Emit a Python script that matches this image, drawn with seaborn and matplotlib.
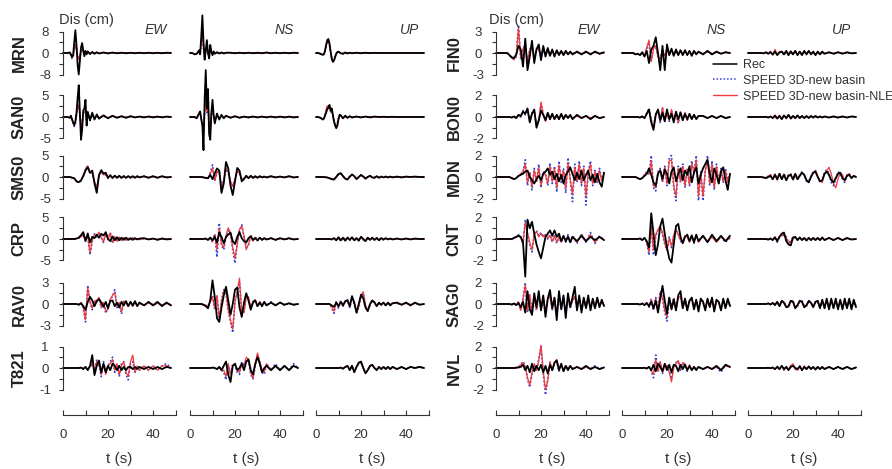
import numpy as np
import pandas as pd
import seaborn as sns
import matplotlib.pyplot as plt
from matplotlib.lines import Line2D

# time axes (s)
t_A = [0, 1, 2, 3, 3.5, 4, 4.5, 5, 5.5, 6, 6.5, 7, 7.5, 8, 8.5, 9, 9.5, 10, 10.5, 11, 12, 13, 14, 15, 16, 18, 20, 22, 24, 26, 28, 30, 32, 34, 36, 38, 40, 42, 44, 46, 48]
t_B = [0, 3, 5, 6, 7, 8, 9, 10, 11, 12, 13, 14, 15, 16, 17, 18, 19, 20, 21, 22, 23, 24, 25, 26, 27, 28, 29, 30, 31, 32, 33, 34, 36, 38, 40, 42, 44, 46, 48]
t_C = [0, 3, 5, 6, 7, 8, 9, 10, 11, 12, 13, 14, 15, 16, 17, 18, 19, 20, 21, 22, 23, 24, 25, 26, 27, 28, 29, 30, 31, 32, 33, 34, 35, 36, 37, 38, 39, 40, 41, 42, 43, 44, 45, 46, 47, 48]

# displacement (cm): rec = recorded, sim = SPEED 3D-new basin, nle = SPEED 3D-new basin-NLE
MRN_EW_rec = [0, 0, 0, 0.2, -0.5, -1.5, -0.8, 4.0, 8.5, 3.0, -4.5, -8.0, -3.0, 2.0, 3.7, 1.0, -1.2, 0.8, -0.5, 0.6, -0.4, 0.4, -0.3, 0.3, -0.2, 0.2, -0.15, 0.15, -0.1, 0.1, -0.1, 0.1, -0.1, 0.1, -0.1, 0.1, -0.1, 0.1, -0.1, 0.1, 0]
MRN_EW_sim = [0, 0, 0, 0.1, -0.8, -2.0, -1.5, 1.0, 3.0, 2.0, -1.0, -2.5, -1.5, 0.8, 1.5, 0.5, -0.6, 0.4, -0.3, 0.3, -0.2, 0.2, -0.2, 0.1, -0.1, 0.1, -0.1, 0.1, 0, 0.1, 0, 0.05, 0, 0.05, 0, 0.05, 0, 0.05, 0, 0, 0]
MRN_EW_nle = [0, 0, 0, 0.1, -0.6, -1.8, -1.2, 1.2, 2.6, 1.5, -1.2, -2.2, -1.0, 0.9, 1.2, 0.4, -0.5, 0.4, -0.2, 0.3, -0.2, 0.2, -0.1, 0.1, -0.1, 0.1, -0.1, 0.1, 0, 0.05, 0, 0.05, 0, 0.05, 0, 0.05, 0, 0.05, 0, 0, 0]
MRN_NS_rec = [0, 0, -0.5, -0.3, 0.3, 1.0, -0.5, 6.0, 14.0, 4.0, -2.5, 1.0, 4.8, 0.0, -2.0, 3.0, 0.5, -0.8, 0.6, -0.3, 0.3, -0.2, 0.2, -0.2, 0.1, 0.1, -0.1, 0.1, -0.1, 0.1, -0.1, 0.1, -0.1, 0.2, -0.1, 0.1, -0.1, 0.1, -0.1, 0.1, 0]
MRN_NS_sim = [0, 0, -0.5, -0.3, 0.2, 0.8, -0.3, 3.0, 6.0, 2.0, -2.0, 0.5, 2.5, 0.2, -1.5, 1.5, 0.3, -0.6, 0.4, -0.2, 0.2, -0.1, 0.1, -0.1, 0.1, 0.1, 0, 0.1, 0, 0.1, 0, 0.05, 0, 0.05, 0, 0.05, 0, 0.05, 0, 0, 0]
MRN_NS_nle = [0, 0, -0.4, -0.3, 0.2, 0.9, -0.2, 3.5, 7.0, 2.5, -1.5, 0.8, 3.0, 0.3, -1.2, 1.8, 0.2, -0.5, 0.4, -0.2, 0.2, -0.1, 0.1, -0.1, 0.1, 0.1, 0, 0.1, 0, 0.1, 0, 0.05, 0, 0.05, 0, 0.05, 0, 0.05, 0, 0, 0]
MRN_UP_rec = [0, 0, -0.3, -0.7, -0.5, 0.8, 3.0, 4.8, 5.2, 3.5, 0.5, -2.2, -3.3, -2.8, -1.5, -0.3, 0.4, 0.5, 0.2, -0.1, -0.3, 0.2, -0.2, 0.1, -0.1, 0.1, -0.1, 0.1, -0.05, 0.05, 0, 0, 0, 0, 0, 0, 0, 0, 0, 0, 0]
MRN_UP_sim = [0, 0, -0.3, -0.6, -0.5, 0.6, 2.5, 4.0, 4.5, 3.0, 0.5, -1.8, -2.8, -2.4, -1.2, -0.2, 0.3, 0.4, 0.2, -0.1, -0.2, 0.1, -0.1, 0.1, -0.1, 0.1, 0, 0.05, 0, 0, 0, 0, 0, 0, 0, 0, 0, 0, 0, 0, 0]
MRN_UP_nle = [0, 0, -0.3, -0.6, -0.4, 0.7, 2.8, 4.4, 4.8, 3.2, 0.6, -1.9, -3.0, -2.5, -1.3, -0.3, 0.3, 0.4, 0.2, -0.1, -0.2, 0.1, -0.1, 0.1, -0.1, 0.1, 0, 0.05, 0, 0, 0, 0, 0, 0, 0, 0, 0, 0, 0, 0, 0]

SAN0_EW_rec = [0, 0, 0, -0.2, 0.3, -0.5, -1.2, -1.9, -1.0, 1.0, 4.5, 7.4, 1.0, -5.3, -3.0, 1.5, 2.0, 4.0, -2.0, 1.2, -0.8, 1.0, -0.6, 0.6, -0.4, 0.4, -0.3, 0.3, -0.2, 0.2, -0.2, 0.2, -0.1, 0.1, -0.1, 0.1, -0.1, 0.1, -0.1, 0.1, 0]
SAN0_EW_sim = [0, 0, 0, -0.2, 0.2, -0.8, -1.5, -2.2, -1.5, 0.5, 2.0, 2.5, 0.5, -2.0, -1.5, 0.8, 1.2, 1.5, -0.8, 0.6, -0.5, 0.5, -0.4, 0.3, -0.2, 0.2, -0.2, 0.2, -0.1, 0.1, -0.1, 0.1, -0.1, 0.1, 0, 0.1, 0, 0.05, 0, 0.05, 0]
SAN0_EW_nle = [0, 0, 0, -0.2, 0.2, -0.7, -1.4, -2.0, -1.2, 0.6, 2.2, 2.8, 0.6, -2.2, -1.4, 0.9, 1.3, 1.7, -0.9, 0.7, -0.5, 0.5, -0.3, 0.3, -0.2, 0.2, -0.2, 0.2, -0.1, 0.1, -0.1, 0.1, -0.1, 0.1, 0, 0.1, 0, 0.05, 0, 0.05, 0]
SAN0_NS_rec = [0, 0, 0, -0.3, 0.3, 0.8, 1.3, -0.5, -2.0, -7.7, 4.0, 10.9, 2.0, 6.5, -4.0, -5.3, 1.0, 4.0, 0.5, -1.5, 0.8, -0.6, 0.5, -0.3, 0.3, -0.2, 0.2, -0.2, 0.1, -0.1, 0.1, -0.1, 0.1, -0.1, 0.1, -0.1, 0.1, -0.1, 0.1, -0.1, 0]
SAN0_NS_sim = [0, 0, 0, -0.2, 0.2, 0.6, 1.0, -0.3, -1.5, -3.5, 1.0, 3.5, 1.0, 2.5, -2.0, -2.5, 0.5, 2.0, 0.3, -0.8, 0.5, -0.4, 0.3, -0.2, 0.2, -0.1, 0.1, -0.1, 0.1, -0.1, 0.1, -0.1, 0.05, -0.05, 0.05, -0.05, 0.05, 0, 0, 0, 0]
SAN0_NS_nle = [0, 0, 0, -0.2, 0.2, 0.7, 1.1, -0.3, -1.6, -3.8, 1.2, 3.8, 1.2, 2.8, -2.2, -2.6, 0.6, 2.2, 0.3, -0.9, 0.5, -0.4, 0.3, -0.2, 0.2, -0.1, 0.1, -0.1, 0.1, -0.1, 0.1, -0.1, 0.05, -0.05, 0.05, -0.05, 0.05, 0, 0, 0, 0]
SAN0_UP_rec = [0, 0, -0.2, -0.6, -0.4, 0.3, 1.0, 1.8, 2.2, 2.8, 1.5, 2.0, 0.5, -1.0, -2.0, -2.6, -2.0, -0.5, 0.5, 0.4, -0.3, 0.3, -0.2, 0.2, -0.1, 0.1, -0.1, 0.1, -0.1, 0.1, 0, 0.05, 0, 0.05, 0, 0, 0, 0, 0, 0, 0]
SAN0_UP_sim = [0, 0, -0.2, -0.5, -0.3, 0.5, 1.5, 2.3, 1.8, 2.5, 1.2, 1.5, 0.2, -1.0, -1.8, -2.2, -1.5, -0.3, 0.4, 0.3, -0.3, 0.2, -0.2, 0.1, -0.1, 0.1, -0.1, 0.1, 0, 0.05, 0, 0, 0, 0, 0, 0, 0, 0, 0, 0, 0]
SAN0_UP_nle = [0, 0, -0.2, -0.5, -0.3, 0.6, 1.8, 2.6, 2.0, 2.8, 1.4, 1.6, 0.3, -1.0, -1.9, -2.3, -1.6, -0.4, 0.4, 0.3, -0.3, 0.2, -0.2, 0.1, -0.1, 0.1, -0.1, 0.1, 0, 0.05, 0, 0, 0, 0, 0, 0, 0, 0, 0, 0, 0]

SMS0_EW_rec = [0, 0, -0.3, -1.0, -1.2, -0.8, 0.2, 1.5, 2.3, 1.0, 1.5, -1.5, -3.7, 0.5, 1.6, 0.8, 1.0, -0.2, 0.4, -0.2, 0.3, -0.2, 0.3, -0.2, 0.2, -0.2, 0.2, -0.2, 0.2, -0.2, 0.2, -0.1, 0.2, -0.2, 0.2, -0.2, 0.2, -0.1, 0]
SMS0_EW_sim = [0, 0, -0.3, -1.0, -1.3, -0.9, 0.3, 1.8, 2.5, 0.8, 1.0, -1.2, -2.5, 0.3, 1.2, 0.6, 0.5, -0.3, 0.4, -0.3, 0.3, -0.2, 0.2, -0.2, 0.2, -0.2, 0.2, -0.1, 0.1, -0.1, 0.1, -0.1, 0.1, -0.1, 0.1, -0.1, 0.1, -0.1, 0]
SMS0_EW_nle = [0, 0, -0.3, -1.0, -1.2, -0.8, 0.3, 1.9, 2.6, 0.9, 1.2, -1.0, -2.6, 0.4, 1.3, 0.5, 0.6, -0.3, 0.3, -0.2, 0.3, -0.2, 0.2, -0.2, 0.2, -0.2, 0.2, -0.1, 0.1, -0.1, 0.1, -0.1, 0.1, -0.1, 0.1, -0.1, 0.1, -0.1, 0]
SMS0_NS_rec = [0, 0, 0, -0.1, -0.2, -0.3, 0.5, -0.5, 0.8, 2.0, 1.5, -3.7, -1.5, 3.5, 2.0, -2.0, -4.2, -1.0, 2.1, 1.5, -1.0, -0.5, 0.3, -0.3, 0.3, -0.2, 0.2, -0.2, 0.2, -0.1, 0.1, -0.1, 0.2, -0.1, 0.1, -0.1, 0.2, -0.1, 0]
SMS0_NS_sim = [0, 0, 0, -0.1, -0.2, -0.3, 1.0, 2.8, -1.0, 1.0, 1.2, -2.0, -0.8, 1.8, 1.0, -1.2, -2.0, -0.5, 1.2, 0.8, -0.6, -0.3, 0.2, -0.2, 0.2, -0.2, 0.1, -0.1, 0.1, -0.1, 0.1, -0.1, 0.1, -0.1, 0.1, -0.1, 0.1, -0.1, 0]
SMS0_NS_nle = [0, 0, 0, -0.1, -0.2, -0.3, 0.8, 2.0, -0.8, 1.2, 1.3, -2.2, -1.0, 2.0, 1.2, -1.0, -2.2, -0.6, 1.3, 0.9, -0.5, -0.3, 0.2, -0.2, 0.2, -0.2, 0.1, -0.1, 0.1, -0.1, 0.1, -0.1, 0.1, -0.1, 0.1, -0.1, 0.1, -0.1, 0]
SMS0_UP_rec = [0, 0, -0.1, -0.3, -0.5, -0.6, 0.0, 0.7, 0.9, 0.2, -0.4, -0.6, 0.1, 0.6, 0.2, -0.5, 0.0, 0.5, 0.1, -0.4, 0.0, 0.3, -0.1, -0.2, 0.2, -0.2, 0.1, -0.1, 0.1, -0.1, 0.1, -0.1, 0.1, -0.1, 0.1, 0, 0.1, 0, 0]
SMS0_UP_sim = [0, 0, -0.1, -0.3, -0.5, -0.5, 0.1, 0.6, 0.8, 0.1, -0.4, -0.5, 0.1, 0.5, 0.1, -0.4, 0.0, 0.4, 0.1, -0.3, 0.0, 0.2, -0.1, -0.1, 0.1, -0.1, 0.1, -0.1, 0.1, -0.1, 0, 0, 0, 0, 0, 0, 0, 0, 0]
SMS0_UP_nle = [0, 0, -0.1, -0.3, -0.4, -0.5, 0.1, 0.7, 0.8, 0.2, -0.3, -0.5, 0.0, 0.5, 0.2, -0.4, -0.1, 0.4, 0.1, -0.3, 0.1, 0.2, -0.1, -0.1, 0.1, -0.1, 0.1, -0.1, 0.1, -0.1, 0, 0, 0, 0, 0, 0, 0, 0, 0]

CRP_EW_rec = [0, 0, 0, 0.1, 0.3, 0.9, 1.6, -0.5, 1.3, -0.8, 0.5, 0.2, 1.0, 0.3, 1.2, 0.8, 1.6, 0.0, -0.5, 0.6, -0.3, 0.4, -0.3, 0.3, -0.2, 0.3, -0.2, 0.2, -0.2, 0.2, -0.1, 0.1, 0.2, -0.1, 0.1, -0.2, 0.1, -0.1, 0]
CRP_EW_sim = [0, 0, 0, 0.1, 0.2, 0.6, 1.0, -0.3, 0.8, -3.7, -0.5, 1.2, 0.5, 1.5, 0.3, -0.8, 1.2, 0.0, 1.5, -1.0, 0.5, -0.6, 0.4, -0.3, 0.3, -0.3, 0.2, -0.2, 0.2, -0.1, 0.1, -0.1, 0.1, -0.1, 0.1, -0.1, 0.1, 0, 0]
CRP_EW_nle = [0, 0, 0, 0.1, 0.2, 0.5, 1.1, -0.4, 0.9, -3.2, -0.3, 1.0, 0.6, 1.6, 0.4, -0.7, 1.3, -0.2, 1.4, -0.8, 0.6, -0.5, 0.3, -0.3, 0.3, -0.3, 0.2, -0.2, 0.2, -0.1, 0.1, -0.1, 0.1, -0.1, 0.1, -0.1, 0.1, 0, 0]
CRP_NS_rec = [0, 0, 0, 0, 0.1, -0.2, 0.3, -0.3, 0.5, -0.8, 1.5, 0.5, -1.0, 0.5, 1.0, 1.5, -0.5, -1.2, 0.5, 1.6, 0.2, -0.5, -0.8, 0.2, 0.6, -0.2, 0.2, -0.3, 0.3, -0.2, 0.2, -0.1, 0.2, -0.2, 0.2, -0.1, 0.2, -0.1, 0]
CRP_NS_sim = [0, 0, 0, 0, 0.1, -0.3, 0.5, -0.8, 1.2, -4.2, 3.7, -1.5, -2.5, 0.5, 2.0, 1.0, -2.5, -5.6, -1.0, 2.0, 3.3, 0.5, -2.0, -1.5, 1.0, -0.5, 0.5, -0.4, 0.3, -0.3, 0.3, -0.2, 0.2, -0.2, 0.1, -0.1, 0.1, -0.1, 0]
CRP_NS_nle = [0, 0, 0, 0, 0.1, -0.3, 0.4, -0.6, 1.0, -2.5, 2.5, -1.2, -2.0, 0.8, 2.6, 1.2, -2.0, -4.5, -1.2, 2.2, 3.0, 0.8, -2.5, -1.2, 0.8, -0.5, 0.4, -0.3, 0.3, -0.2, 0.2, -0.2, 0.2, -0.2, 0.1, -0.1, 0.1, -0.1, 0]
CRP_UP_rec = [0, 0, 0, 0, -0.1, 0.2, -0.3, 0.4, -0.3, 0.3, -0.4, 0.3, -0.2, 0.4, -0.3, 0.2, -0.4, 0.5, 0.0, -0.5, 0.3, -0.2, 0.3, -0.2, 0.2, -0.3, 0.2, -0.1, 0.2, -0.1, 0.1, -0.1, 0.1, -0.1, 0.1, -0.1, 0.1, 0, 0]
CRP_UP_sim = [0, 0, 0, 0, -0.1, 0.2, -0.4, 0.3, -0.5, 0.4, -0.3, 0.5, -0.3, 0.3, -0.4, 0.3, -0.3, 0.6, -0.2, -0.4, 0.4, -0.3, 0.2, -0.2, 0.3, -0.2, 0.2, -0.2, 0.1, -0.1, 0.1, -0.1, 0.1, -0.1, 0.1, -0.1, 0, 0, 0]
CRP_UP_nle = [0, 0, 0, 0, -0.1, 0.2, -0.3, 0.4, -0.4, 0.3, -0.4, 0.4, -0.2, 0.4, -0.3, 0.2, -0.4, 0.5, -0.1, -0.5, 0.3, -0.2, 0.3, -0.2, 0.3, -0.2, 0.2, -0.2, 0.1, -0.1, 0.1, -0.1, 0.1, -0.1, 0.1, -0.1, 0, 0, 0]

RAV0_EW_rec = [0, 0, 0, 0, -0.1, 0.1, -0.3, -0.8, 0.3, 1.0, 0.5, -0.3, 0.4, 0.7, 0.2, -0.4, 0.3, -0.6, 0.4, 0.5, -0.3, 0.2, -0.5, 0.3, -0.2, 0.4, -0.3, 0.3, -0.2, 0.4, -0.3, 0.2, -0.2, 0.3, -0.2, 0.3, -0.3, 0.2, -0.2]
RAV0_EW_sim = [0, 0, 0, 0, -0.1, 0.2, -0.5, -2.5, 2.6, 0.3, -0.8, 0.5, 0.3, 0.8, -0.5, 0.3, -1.3, -0.5, 0.8, 1.0, 2.0, -0.5, 0.3, -1.4, 0.5, 0.3, -0.4, 0.3, -0.3, 0.2, -0.2, 0.2, -0.2, 0.2, -0.1, 0.2, -0.2, 0.1, -0.1]
RAV0_EW_nle = [0, 0, 0, 0, -0.1, 0.2, -0.4, -2.2, 2.3, 0.4, -0.6, 0.4, 0.5, 0.9, -0.4, 0.2, -1.0, -0.7, 0.6, 1.2, 1.6, -0.3, 0.2, -1.1, 0.4, 0.2, -0.3, 0.2, -0.3, 0.3, -0.2, 0.1, -0.2, 0.2, -0.2, 0.1, -0.1, 0.1, -0.1]
RAV0_NS_rec = [0, 0, 0, -0.1, -0.3, -0.6, 0.5, 3.3, 1.0, -2.0, -2.5, -0.5, 1.2, 2.4, 0.5, -1.5, 0.0, 2.0, 2.3, -0.5, -1.8, 0.2, 1.5, 0.5, -0.8, 0.2, 0.5, -0.3, 0.2, -0.3, 0.3, -0.2, 0.2, -0.2, 0.2, -0.1, 0.1, -0.1, 0]
RAV0_NS_sim = [0, 0, 0, -0.1, -0.2, -0.3, 0.4, 1.2, -0.8, 1.0, -2.5, 0.5, 2.0, 1.5, -1.0, -2.5, -4.0, 0.5, 1.5, 3.0, -1.5, -1.0, 1.2, 0.8, -0.6, 0.4, 0.5, -0.4, 0.3, -0.3, 0.3, -0.2, 0.3, -0.2, 0.2, -0.2, 0.1, -0.1, 0]
RAV0_NS_nle = [0, 0, 0, -0.1, -0.2, -0.3, 0.3, 1.0, -0.6, 1.2, -2.0, 0.3, 1.8, 1.8, -0.8, -2.2, -3.5, 0.2, 1.8, 3.6, -1.2, -1.2, 1.0, 1.0, -0.5, 0.3, 0.6, -0.3, 0.3, -0.2, 0.2, -0.2, 0.2, -0.2, 0.2, -0.1, 0.1, -0.1, 0]
RAV0_UP_rec = [0, 0, 0, 0, -0.2, -0.4, 0.2, -0.3, 0.3, -0.2, 0.4, 0.5, -0.3, 1.1, 0.2, -1.2, 0.0, 1.3, 0.8, -0.5, -1.0, 0.0, 0.5, 0.2, -0.3, 0.2, -0.1, 0.2, -0.2, 0.2, -0.2, 0.1, 0.2, -0.1, 0.2, -0.2, 0.2, -0.1, 0]
RAV0_UP_sim = [0, 0, 0, 0, -0.5, -1.3, 0.4, -0.6, 0.5, -0.3, 0.3, 0.6, -0.5, 0.8, 0.0, -1.3, -0.5, 1.0, 1.5, -0.3, -0.8, -0.2, 0.4, 0.3, -0.3, 0.2, -0.2, 0.2, -0.2, 0.1, -0.1, 0.1, 0.1, -0.1, 0.1, -0.1, 0.1, -0.1, 0]
RAV0_UP_nle = [0, 0, 0, 0, -0.4, -1.0, 0.3, -0.4, 0.4, -0.3, 0.4, 0.5, -0.4, 0.9, 0.2, -1.1, -0.4, 1.2, 1.7, -0.2, -0.9, -0.1, 0.5, 0.3, -0.3, 0.2, -0.2, 0.2, -0.2, 0.1, -0.1, 0.1, 0.1, -0.1, 0.1, -0.1, 0.1, -0.1, 0]

T821_EW_rec = [0, 0, 0, 0, 0, 0.02, -0.05, 0.05, -0.1, 0.1, 0.6, -0.33, 0.1, 0.35, -0.2, 0.2, -0.2, 0.1, -0.1, 0.2, 0.1, -0.1, 0.1, -0.1, 0.05, -0.1, 0.05, 0.05, -0.05, 0.05, -0.05, 0.05, -0.05, 0.05, -0.05, 0.05, -0.05, 0.05, 0]
T821_EW_sim = [0, 0, 0, 0, 0, 0.02, -0.03, 0.05, -0.05, 0.05, 0.2, -0.2, 0.4, 0.1, -0.4, 0.3, -0.2, 0.1, 0.3, 0.5, -0.2, 0.2, -0.4, 0.2, 0.3, -0.3, -0.55, 0.2, 0.3, -0.2, 0.1, -0.1, 0.1, -0.1, 0.1, -0.1, 0.1, 0.2, 0]
T821_EW_nle = [0, 0, 0, 0, 0, 0.02, -0.03, 0.05, -0.05, 0.05, 0.3, -0.2, 0.3, 0.2, -0.3, 0.2, -0.3, 0.1, 0.2, 0.4, -0.1, 0.2, -0.3, 0.1, 0.3, -0.2, -0.4, 0.3, 0.6, -0.2, 0.1, -0.1, 0.1, -0.1, 0.1, -0.1, 0.1, 0.1, 0]
T821_NS_rec = [0, 0, 0, 0, 0, 0, 0, 0.02, 0, -0.05, 0.05, -0.1, 0.1, 0.3, -0.3, -0.65, 0.1, 0.2, -0.1, 0.0, 0.2, -0.1, 0.3, 0.4, -0.1, -0.3, 0.2, 0.5, 0.2, -0.2, 0.0, 0.1, -0.1, 0.1, -0.1, 0.1, -0.1, 0.1, 0]
T821_NS_sim = [0, 0, 0, 0, 0, 0, 0, 0.02, 0, -0.05, 0.05, -0.1, -0.2, -0.55, 0.1, -0.3, 0.2, 0.1, -0.2, -0.3, 0.3, 0.1, 0.4, 0.3, -0.3, -0.5, 0.1, 0.6, 0.3, -0.2, -0.3, 0.2, -0.1, 0.2, -0.1, 0.1, -0.1, 0.2, 0]
T821_NS_nle = [0, 0, 0, 0, 0, 0, 0, 0.02, 0, -0.05, 0.05, -0.1, -0.1, -0.4, 0.2, -0.3, 0.1, 0.2, -0.1, -0.2, 0.2, 0.1, 0.5, 0.4, -0.2, -0.5, 0.2, 0.7, 0.3, -0.1, -0.2, 0.2, -0.1, 0.1, -0.1, 0.1, -0.1, 0.1, 0]
T821_UP_rec = [0, 0, 0, 0, 0, 0, 0, 0, 0.02, -0.03, 0.05, 0.1, -0.1, 0.1, -0.2, 0.05, 0.25, 0.3, 0.0, -0.25, -0.1, 0.1, 0.15, 0.0, -0.1, 0.05, -0.05, 0.05, -0.05, 0.05, -0.05, 0.05, -0.05, 0.05, -0.05, 0.05, 0, 0.05, 0]
T821_UP_sim = [0, 0, 0, 0, 0, 0, 0, 0, 0.02, -0.03, 0.05, 0.08, -0.08, 0.1, -0.15, 0.05, 0.2, 0.25, 0.0, -0.2, -0.1, 0.1, 0.12, 0.0, -0.08, 0.05, -0.05, 0.05, -0.05, 0.05, -0.05, 0.05, -0.05, 0.05, -0.05, 0.05, 0, 0.05, 0]
T821_UP_nle = [0, 0, 0, 0, 0, 0, 0, 0, 0.02, -0.03, 0.05, 0.1, -0.1, 0.12, -0.18, 0.05, 0.22, 0.28, 0.0, -0.22, -0.1, 0.1, 0.15, 0.0, -0.08, 0.05, -0.05, 0.05, -0.05, 0.05, -0.05, 0.05, -0.05, 0.05, -0.05, 0.05, 0, 0.05, 0]

FIN0_EW_rec = [0, 0, 0, -0.3, -0.6, -0.7, -0.2, 1.0, 0.5, -1.9, 2.0, -2.4, -0.5, 1.7, -1.4, 0.5, 1.2, -1.0, 1.0, -0.5, 0.7, -0.4, 0.5, -0.5, 0.4, -0.3, 0.3, -0.3, 0.3, -0.2, 0.2, -0.2, 0.2, -0.2, 0.2, -0.2, 0.2, -0.1, 0.1]
FIN0_EW_sim = [0, 0, 0, -0.3, -0.7, -0.9, -0.5, 3.9, -1.0, 0.5, 1.2, -1.5, 0.5, 1.0, -0.8, 0.6, 0.5, -0.6, 0.6, -0.3, 0.4, -0.3, 0.3, -0.3, 0.3, -0.2, 0.2, -0.2, 0.2, -0.1, 0.1, -0.1, 0.1, -0.1, 0.1, -0.1, 0.1, -0.1, 0]
FIN0_EW_nle = [0, 0, 0, -0.3, -0.7, -0.9, -0.4, 3.5, -0.8, 0.6, 1.0, -1.2, 0.4, 1.1, -0.7, 0.5, 0.6, -0.5, 0.5, -0.3, 0.3, -0.2, 0.3, -0.3, 0.3, -0.2, 0.2, -0.2, 0.2, -0.1, 0.1, -0.1, 0.1, -0.1, 0.1, -0.1, 0.1, -0.1, 0]
FIN0_NS_rec = [0, 0, 0, -0.2, -0.1, -0.3, 0.1, -0.5, 0.3, -1.4, 0.5, 1.0, 2.2, 0.0, -2.4, 1.0, -2.4, 1.2, -0.3, 0.6, -0.4, 0.5, -0.3, 0.4, -0.3, 0.4, -0.3, 0.3, -0.4, 0.3, -0.2, 0.2, -0.2, 0.3, -0.2, 0.2, -0.1, 0.1, 0]
FIN0_NS_sim = [0, 0, 0, -0.2, -0.1, -0.3, 0.1, -0.4, 0.6, 1.2, -1.0, 0.8, 1.0, -0.6, -0.8, 0.5, -0.5, 0.6, -0.3, 0.4, -0.3, 0.3, -0.2, 0.3, -0.2, 0.3, -0.2, 0.2, -0.2, 0.2, -0.1, 0.1, -0.1, 0.2, -0.1, 0.1, -0.1, 0.1, 0]
FIN0_NS_nle = [0, 0, 0, -0.2, -0.1, -0.3, 0.1, -0.4, 0.8, 1.8, -1.2, 0.6, 1.0, -0.5, -0.9, 0.4, -0.4, 0.5, -0.3, 0.4, -0.2, 0.3, -0.2, 0.3, -0.2, 0.3, -0.2, 0.2, -0.2, 0.2, -0.1, 0.1, -0.1, 0.2, -0.1, 0.1, -0.1, 0.1, 0]
FIN0_UP_rec = [0, 0, 0, 0, -0.05, 0.1, -0.1, 0.1, -0.2, 0.2, -0.3, 0.1, 0.2, -0.2, 0.3, -0.3, 0.2, -0.2, 0.3, -0.3, 0.2, -0.3, 0.3, -0.2, 0.3, -0.2, 0.2, -0.3, 0.2, -0.2, 0.2, -0.1, 0.1, -0.1, 0.1, -0.1, 0.1, -0.05, 0]
FIN0_UP_sim = [0, 0, 0, 0, -0.05, 0.1, -0.1, 0.2, -0.2, 0.3, -0.2, 0.1, 0.1, -0.2, 0.2, -0.2, 0.2, -0.1, 0.2, -0.2, 0.1, -0.2, 0.2, -0.1, 0.2, -0.1, 0.1, -0.2, 0.1, -0.1, 0.1, -0.1, 0.1, -0.1, 0.1, -0.05, 0.05, -0.05, 0]
FIN0_UP_nle = [0, 0, 0, 0, -0.05, 0.1, -0.1, 0.2, -0.3, 0.5, -0.2, 0.1, 0.2, -0.2, 0.2, -0.2, 0.3, -0.1, 0.2, -0.2, 0.2, -0.2, 0.2, -0.1, 0.2, -0.1, 0.1, -0.2, 0.1, -0.1, 0.1, -0.1, 0.1, -0.1, 0.1, -0.05, 0.05, -0.05, 0]

BON0_EW_rec = [0, 0, 0, 0, -0.05, 0.05, -0.1, 0.2, 0.1, 0.5, 0.3, 0.8, -0.5, 0.3, 0.7, -1.0, -0.3, 0.6, 0.2, -0.3, 0.4, -0.2, 0.3, -0.2, 0.2, -0.2, 0.3, -0.2, 0.2, -0.1, 0.2, -0.2, 0.2, -0.1, 0.1, -0.2, 0.1, -0.1, 0]
BON0_EW_sim = [0, 0, 0, 0, -0.05, 0.05, -0.1, 0.2, 0.0, 0.6, 0.2, 0.6, -0.3, 0.4, 0.5, -0.8, -0.4, 1.2, 0.3, -0.3, 0.3, -0.2, 0.2, -0.2, 0.2, -0.2, 0.2, -0.1, 0.2, -0.1, 0.1, -0.1, 0.1, -0.1, 0.1, -0.1, 0.1, -0.1, 0]
BON0_EW_nle = [0, 0, 0, 0, -0.05, 0.05, -0.1, 0.2, 0.0, 0.5, 0.3, 0.7, -0.4, 0.3, 0.6, -0.7, -0.3, 1.4, 0.2, -0.4, 0.3, -0.2, 0.3, -0.2, 0.2, -0.2, 0.2, -0.1, 0.2, -0.1, 0.1, -0.1, 0.1, -0.1, 0.1, -0.1, 0.1, -0.1, 0]
BON0_NS_rec = [0, 0, 0, 0, 0, -0.05, 0.05, -0.1, 0.3, 0.7, -0.5, -1.2, 0.2, 0.7, -0.3, 0.4, -0.4, 0.7, -0.2, 0.3, -0.5, 0.5, -0.2, 0.4, -0.3, 0.3, -0.2, 0.3, -0.2, 0.2, -0.2, 0.1, 0.1, -0.1, 0.1, -0.1, 0.1, -0.1, 0]
BON0_NS_sim = [0, 0, 0, 0, 0, -0.05, 0.05, -0.1, 0.4, 0.8, -0.3, -0.9, 0.3, 0.6, -0.5, 0.8, -0.3, 0.5, -0.4, 0.6, -0.4, 0.3, -0.6, 0.5, -0.3, 0.4, -0.3, 0.2, -0.2, 0.2, -0.1, 0.1, 0.1, -0.1, 0.1, -0.1, 0.1, -0.1, 0]
BON0_NS_nle = [0, 0, 0, 0, 0, -0.05, 0.05, -0.1, 0.3, 0.7, -0.3, -1.0, 0.2, 0.7, -0.4, 0.9, -0.4, 0.4, -0.3, 0.7, -0.3, 0.4, -0.5, 0.5, -0.3, 0.4, -0.3, 0.2, -0.2, 0.2, -0.1, 0.1, 0.1, -0.1, 0.1, -0.1, 0.1, -0.1, 0]
BON0_UP_rec = [0, 0, 0, 0, 0, 0.02, -0.05, 0.05, -0.1, 0.1, -0.15, 0.1, -0.2, 0.15, -0.1, 0.2, -0.15, 0.1, -0.1, 0.15, -0.1, 0.1, -0.1, 0.1, -0.1, 0.1, -0.05, 0.1, -0.05, 0.05, -0.05, 0.05, -0.05, 0.05, -0.05, 0.05, -0.05, 0.05, 0]
BON0_UP_sim = [0, 0, 0, 0, 0, 0.02, -0.05, 0.05, -0.1, 0.15, -0.1, 0.1, -0.15, 0.1, -0.15, 0.15, -0.1, 0.1, -0.1, 0.1, -0.1, 0.05, -0.1, 0.05, -0.05, 0.05, -0.05, 0.05, -0.05, 0.05, -0.05, 0.05, -0.05, 0.05, -0.05, 0.05, -0.05, 0.05, 0]
BON0_UP_nle = [0, 0, 0, 0, 0, 0.02, -0.05, 0.05, -0.1, 0.2, -0.1, 0.15, -0.2, 0.1, -0.1, 0.2, -0.1, 0.1, -0.15, 0.1, -0.1, 0.1, -0.1, 0.05, -0.05, 0.05, -0.05, 0.05, -0.05, 0.05, -0.05, 0.05, -0.05, 0.05, -0.05, 0.05, -0.05, 0.05, 0]

MDN_EW_rec = [0, 0, 0, 0, -0.1, -0.2, -0.1, 0.1, 0.2, 0.3, 0.5, 0.6, 0.0, -0.3, -0.6, -0.2, 0.1, -0.3, 0.3, 0.5, 0.8, 0.2, 0.5, -0.2, 0.3, -0.4, 0.2, -0.6, 0.2, 0.5, 0.9, 0.3, -0.3, 0.4, -0.2, 0.6, -0.3, 0.2, 0.6, -0.3, 0.2, -0.5, 0.3, -0.5, -0.9, 0.4]
MDN_EW_sim = [0, 0, 0, 0, -0.1, -0.2, -0.1, 0.1, 0.3, 0.4, 1.6, -0.8, 0.5, -1.2, 0.8, -0.5, 1.2, -1.0, 0.5, 0.3, -0.8, 1.3, -0.6, 1.0, -1.4, 1.5, -0.5, 0.8, -1.5, 1.8, -0.3, -2.3, 1.2, -0.5, 1.5, -0.8, 1.0, -2.6, 0.5, 1.5, -0.8, 0.6, -0.5, 0.8, -0.3, 0.5]
MDN_EW_nle = [0, 0, 0, 0, -0.1, -0.2, -0.1, 0.1, 0.3, 0.5, 1.2, -0.5, 0.4, -0.9, 0.6, -0.4, 0.9, -0.8, 0.4, 0.2, -0.6, 1.0, -0.4, 0.8, -1.0, 1.1, -0.3, 0.6, -1.1, 1.3, -0.2, -1.6, 0.9, -0.3, 1.2, -0.6, 0.8, -1.8, 0.4, 1.2, -0.6, 0.5, -0.4, 0.6, -0.4, 0.4]
MDN_NS_rec = [0, 0, 0, 0, -0.1, -0.2, -0.1, 0.1, 0.3, 0.8, 0.2, -0.5, -0.8, 0.3, 0.6, -0.2, 0.7, 0.3, -0.6, 0.5, 0.9, -0.4, 0.3, 0.8, -0.3, 0.6, 0.2, 1.0, -0.5, 0.4, 0.9, -0.6, 0.2, 0.8, 1.2, 1.6, 0.3, -0.5, 0.8, 0.2, -0.6, 0.5, 0.9, -0.3, -1.2, 0.3]
MDN_NS_sim = [0, 0, 0, 0, -0.1, -0.2, -0.1, 0.2, 0.5, 0.2, 2.0, -1.0, -1.3, 0.5, 0.8, -0.5, 1.0, -0.8, 1.8, 2.0, -1.0, -2.2, 1.0, -0.5, 1.2, -1.0, 0.8, -0.8, 1.5, 0.3, 2.0, -2.2, 0.5, -2.2, 0.5, 2.0, -0.8, 1.5, -1.2, 1.2, -0.6, 0.8, -0.5, 0.8, -0.4, 0.3]
MDN_NS_nle = [0, 0, 0, 0, -0.1, -0.2, -0.1, 0.2, 0.4, 0.3, 1.5, -0.8, -1.0, 0.4, 0.7, -0.4, 0.9, -0.6, 1.5, 1.6, -0.8, -1.8, 0.8, -0.4, 1.0, -0.8, 0.7, -0.7, 1.2, 0.4, 1.6, -1.8, 0.4, -1.8, 0.6, 1.6, -0.6, 1.2, -1.0, 1.0, -0.5, 0.7, -0.4, 0.6, -0.5, 0.3]
MDN_UP_rec = [0, 0, 0, 0, -0.05, -0.1, 0.0, 0.1, -0.2, 0.2, -0.2, 0.3, -0.2, 0.2, -0.3, 0.1, 0.2, -0.2, 0.3, -0.2, 0.1, 0.4, 0.2, -0.3, -0.5, 0.0, 0.4, 0.5, 0.0, -0.4, -0.3, 0.3, 0.5, 0.2, -0.3, -0.5, -0.1, 0.3, 0.4, -0.1, -0.3, 0.1, 0.2, -0.1, 0.1, 0]
MDN_UP_sim = [0, 0, 0, 0, -0.05, -0.1, 0.1, 0.2, -0.3, 0.3, -0.2, 0.4, -0.3, 0.3, -0.2, 0.2, 0.3, -0.3, 0.2, -0.3, 0.2, 0.5, 0.1, -0.4, -0.4, 0.1, 0.5, 0.6, 0.0, -0.5, -0.4, 0.4, 0.7, 0.3, -0.5, -0.8, -0.2, 0.5, 0.3, -0.2, -0.5, 0.2, 0.3, -0.1, 0.1, 0]
MDN_UP_nle = [0, 0, 0, 0, -0.05, -0.1, 0.1, 0.2, -0.2, 0.3, -0.3, 0.3, -0.2, 0.3, -0.3, 0.2, 0.2, -0.3, 0.3, -0.2, 0.2, 0.4, 0.2, -0.3, -0.5, 0.1, 0.4, 0.6, 0.1, -0.4, -0.5, 0.3, 0.6, 0.9, 0.3, -0.6, -1.0, -0.2, 0.4, 0.2, -0.4, 0.2, 0.3, -0.1, 0.1, 0]

CNT_EW_rec = [0, 0, 0, 0, 0, 0.1, 0.2, 0.3, 0.2, -0.3, -3.5, 1.8, 1.0, 1.6, 0.5, -0.5, -1.2, -1.8, -0.8, 0.2, 0.5, 0.8, 0.3, 0.8, 0.2, 0.5, -0.2, 0.3, -0.2, 0.2, -0.3, 0.2, -0.2, 0.3, -0.2, 0.2, -0.1, 0.2, -0.1]
CNT_EW_sim = [0, 0, 0, 0, 0, 0.1, 0.2, 0.4, 0.1, -0.5, 1.8, 0.5, -0.5, -1.2, 0.5, 0.8, 0.3, 0.6, 0.2, 0.5, 0.0, 0.4, -0.3, 0.3, -0.4, 0.2, -0.3, 0.3, -0.3, 0.4, -0.4, 0.3, -0.4, 0.5, -0.3, 0.6, -0.4, 0.3, -0.1]
CNT_EW_nle = [0, 0, 0, 0, 0, 0.1, 0.2, 0.3, 0.1, -0.4, 1.5, 0.6, -0.3, -1.0, 0.4, 0.7, 0.2, 0.5, 0.2, 0.4, 0.1, 0.3, -0.2, 0.3, -0.3, 0.2, -0.3, 0.2, -0.2, 0.3, -0.3, 0.2, -0.3, 0.4, -0.2, 0.4, -0.3, 0.2, -0.1]
CNT_NS_rec = [0, 0, 0, 0, 0, 0.05, -0.1, 0.1, -0.2, -0.8, 2.4, 0.5, -1.5, -0.5, 1.2, 1.9, 0.5, -0.8, -1.8, -2.2, -0.5, 1.2, 1.4, 0.2, -0.4, 0.2, 0.4, -0.2, 0.3, -0.3, 0.4, -0.2, 0.3, -0.3, 0.4, -0.2, 0.3, -0.2, 0.3]
CNT_NS_sim = [0, 0, 0, 0, 0, 0.05, -0.1, 0.1, -0.3, -1.5, 1.3, -1.5, 0.3, 0.8, 1.0, 0.5, -0.5, -1.0, 0.2, -0.8, 0.3, 0.8, 0.5, -0.2, -0.4, 0.3, 0.3, -0.2, 0.4, -0.4, 0.3, -0.2, 0.3, -0.3, 0.3, -0.2, 0.2, -0.3, 0.1]
CNT_NS_nle = [0, 0, 0, 0, 0, 0.05, -0.1, 0.1, -0.3, -1.2, 1.0, -1.0, 0.4, 0.9, 1.2, 0.6, -0.4, -1.1, 0.1, -0.7, 0.4, 0.9, 0.4, -0.1, -0.3, 0.3, 0.2, -0.3, 0.4, -0.3, 0.4, -0.3, 0.3, -0.2, 0.2, -0.3, 0.2, -0.2, 0.1]
CNT_UP_rec = [0, 0, 0, 0, 0, 0, -0.05, 0.05, -0.1, 0.15, -0.2, 0.2, 0.5, 0.6, -0.2, -0.5, -0.6, 0.1, 0.2, -0.1, 0.15, -0.1, 0.1, -0.15, 0.1, -0.1, 0.1, -0.1, 0.1, -0.1, 0.15, -0.1, 0.1, -0.1, 0.1, -0.1, 0.1, -0.05, 0]
CNT_UP_sim = [0, 0, 0, 0, 0, 0, -0.05, 0.05, -0.1, 0.2, -0.3, 0.3, 0.2, 0.4, 0.2, -0.3, -0.2, 0.2, 0.1, -0.1, 0.1, -0.1, 0.1, -0.1, 0.1, -0.1, 0.1, -0.1, 0.1, -0.1, 0.1, -0.1, 0.1, -0.1, 0.1, -0.1, 0.05, -0.05, 0]
CNT_UP_nle = [0, 0, 0, 0, 0, 0, -0.05, 0.05, -0.1, 0.2, -0.2, 0.3, 0.3, 0.5, 0.1, -0.4, -0.3, 0.2, 0.2, -0.1, 0.1, -0.1, 0.1, -0.1, 0.1, -0.1, 0.1, -0.1, 0.1, -0.1, 0.1, -0.1, 0.1, -0.1, 0.1, -0.1, 0.05, -0.05, 0]

SAG0_EW_rec = [0, 0, 0, 0, -0.05, 0.05, -0.1, 0.1, -0.3, 0.2, -0.8, 1.2, -0.5, -1.0, 1.0, -0.3, 1.2, -0.6, 0.8, -1.2, 0.5, 1.3, -0.4, 0.6, -1.5, 1.2, -0.5, 0.8, -1.3, 1.0, -0.3, 0.6, 1.6, -0.6, 0.8, -0.8, 0.6, -0.4, 0.8, -0.6, 0.5, -0.4, 0.6, -0.3, 0.4, -0.2]
SAG0_EW_sim = [0, 0, 0, 0, -0.05, 0.05, -0.1, 0.2, -0.5, 0.5, 2.0, -0.8, 0.8, -1.0, 0.5, -0.6, 0.8, -0.5, 0.6, -0.8, 0.4, 0.8, -0.6, 0.4, -0.9, 0.7, -0.4, 0.6, -0.8, 0.5, -0.3, 0.4, 0.6, -0.4, 0.5, -0.5, 0.4, -0.3, 0.5, -0.4, 0.3, -0.3, 0.4, -0.2, 0.3, -0.1]
SAG0_EW_nle = [0, 0, 0, 0, -0.05, 0.05, -0.1, 0.2, -0.6, 0.4, 1.8, -0.6, 0.9, -0.8, 0.6, -0.5, 0.9, -0.4, 0.7, -0.7, 0.5, 0.7, -0.5, 0.5, -0.8, 0.8, -0.3, 0.5, -0.7, 0.6, -0.2, 0.3, 0.7, -0.3, 0.6, -0.4, 0.5, -0.3, 0.4, -0.3, 0.4, -0.2, 0.3, -0.2, 0.2, -0.1]
SAG0_NS_rec = [0, 0, 0, 0, 0, -0.05, 0.05, -0.1, 0.1, -0.2, 0.2, -0.4, 0.3, -0.8, 0.5, 1.7, 0.3, -0.9, 0.6, -0.5, 0.4, -0.6, 0.8, 1.2, -0.4, 0.5, -0.6, 0.3, 0.6, -0.5, 0.4, -0.7, 0.5, 0.2, -0.6, 0.5, -0.3, 0.6, -0.7, 0.4, 0.2, -0.6, 0.5, -0.4, 0.5, -0.2]
SAG0_NS_sim = [0, 0, 0, 0, 0, -0.05, 0.05, -0.1, 0.1, -0.3, 0.5, -0.6, 0.6, -0.5, 1.2, 0.5, -0.8, -1.6, 0.5, -0.3, 0.6, -0.4, 0.5, 0.6, -0.3, 0.4, -0.5, 0.3, 0.4, -0.4, 0.3, -0.4, 0.4, 0.2, -0.4, 0.4, -0.3, 0.4, -0.4, 0.3, 0.1, -0.4, 0.3, -0.3, 0.3, -0.1]
SAG0_NS_nle = [0, 0, 0, 0, 0, -0.05, 0.05, -0.1, 0.1, -0.2, 0.4, -0.5, 0.5, -0.6, 1.0, 0.6, -0.6, -1.2, 0.6, -0.4, 0.5, -0.5, 0.6, 0.7, -0.4, 0.5, -0.4, 0.3, 0.5, -0.4, 0.4, -0.5, 0.3, 0.3, -0.5, 0.4, -0.2, 0.5, -0.5, 0.3, 0.2, -0.5, 0.4, -0.3, 0.4, -0.1]
SAG0_UP_rec = [0, 0, 0, 0, 0, 0, 0.05, -0.05, 0.1, -0.1, 0.2, -0.2, 0.3, 0.1, -0.3, -0.2, 0.3, 0.2, -0.4, -0.1, 0.3, 0.2, -0.3, -0.1, 0.3, 0.1, -0.3, 0.2, 0.3, -0.4, 0.4, -0.4, 0.5, -0.5, 0.5, -0.4, 0.5, -0.5, 0.4, -0.5, 0.5, -0.4, 0.5, -0.5, 0.4, -0.3]
SAG0_UP_sim = [0, 0, 0, 0, 0, 0, 0.05, -0.05, 0.1, -0.1, 0.2, -0.2, 0.2, 0.2, -0.2, -0.3, 0.2, 0.3, -0.3, -0.2, 0.2, 0.3, -0.2, -0.2, 0.2, 0.1, -0.2, 0.2, 0.2, -0.3, 0.3, -0.3, 0.3, -0.3, 0.3, -0.3, 0.3, -0.3, 0.3, -0.3, 0.3, -0.3, 0.3, -0.3, 0.3, -0.2]
SAG0_UP_nle = [0, 0, 0, 0, 0, 0, 0.05, -0.05, 0.1, -0.1, 0.2, -0.2, 0.3, 0.2, -0.2, -0.3, 0.3, 0.3, -0.3, -0.2, 0.3, 0.2, -0.3, -0.2, 0.3, 0.1, -0.2, 0.2, 0.3, -0.3, 0.3, -0.3, 0.4, -0.4, 0.4, -0.3, 0.4, -0.4, 0.3, -0.4, 0.4, -0.3, 0.4, -0.4, 0.3, -0.2]

NVL_EW_rec = [0, 0, 0, 0, 0, 0, 0.02, 0.05, 0.1, 0.3, -0.2, 0.2, -0.4, 0.4, -0.3, 0.2, -0.2, 0.3, -0.4, 0.2, -0.5, 0.3, -0.2, 0.5, 0.7, -0.2, 0.4, -0.3, 0.2, -0.2, 0.2, -0.1, 0.1, -0.1, 0.2, -0.1, 0.1, -0.1, 0.05]
NVL_EW_sim = [0, 0, 0, 0, 0, 0, 0.05, 0.1, 0.3, 0.6, 0.2, -1.0, -1.8, -0.5, 0.3, -0.3, 0.8, 2.0, -0.5, -2.5, -1.0, 0.5, -0.3, 0.4, 0.6, -0.3, 0.3, -0.2, 0.2, -0.1, 0.2, -0.1, 0.1, -0.1, 0.1, -0.1, 0.2, -0.1, 0.05]
NVL_EW_nle = [0, 0, 0, 0, 0, 0, 0.05, 0.1, 0.3, 0.5, 0.1, -0.9, -1.6, -0.4, 0.4, -0.2, 0.7, 2.1, -0.3, -2.0, -1.2, 0.6, -0.2, 0.5, 0.8, -0.2, 0.3, -0.3, 0.2, -0.1, 0.2, -0.1, 0.1, -0.1, 0.1, -0.1, 0.1, -0.1, 0.05]
NVL_NS_rec = [0, 0, 0, 0, 0, 0, 0, 0.02, -0.05, 0.1, -0.2, 0.3, -0.3, 0.4, 0.1, -0.3, 0.4, -0.2, 0.3, -0.4, 0.3, 0.2, -0.3, 0.3, -0.1, 0.3, -0.2, 0.2, -0.2, 0.1, -0.2, 0.1, -0.1, 0.1, -0.1, 0.2, -0.2, 0.3, 0.1]
NVL_NS_sim = [0, 0, 0, 0, 0, 0, 0, 0.02, -0.05, 0.1, -0.3, -0.9, 1.2, -0.4, 0.5, -0.5, 0.3, 0.2, -0.3, -1.0, 0.2, 0.5, 0.6, -0.2, 0.4, 0.3, -0.3, 0.2, -0.2, 0.1, -0.1, 0.1, -0.1, 0.1, -0.1, 0.1, -0.4, 0.3, 0.1]
NVL_NS_nle = [0, 0, 0, 0, 0, 0, 0, 0.02, -0.05, 0.1, -0.2, -0.6, 0.8, -0.3, 0.6, -0.4, 0.3, 0.2, -0.4, -1.3, 0.1, 0.4, 0.7, -0.1, 0.5, 0.4, -0.2, 0.3, -0.2, 0.1, -0.1, 0.1, -0.1, 0.1, -0.1, 0.1, -0.2, 0.2, 0.1]
NVL_UP_rec = [0, 0, 0, 0, 0, 0, 0.02, -0.02, 0.05, -0.1, 0.1, -0.1, 0.2, -0.1, 0.1, -0.2, 0.1, 0.2, 0.0, -0.1, 0.15, -0.2, 0.1, -0.1, 0.15, -0.1, 0.1, -0.15, 0.1, -0.1, 0.1, -0.1, 0.1, -0.1, 0.1, -0.1, 0.1, -0.1, 0.05]
NVL_UP_sim = [0, 0, 0, 0, 0, 0, 0.02, -0.02, 0.05, -0.1, 0.15, -0.1, 0.2, -0.2, 0.1, -0.1, 0.2, 0.3, -0.1, -0.2, 0.2, -0.2, 0.1, -0.1, 0.1, -0.1, 0.1, -0.1, 0.1, -0.1, 0.1, -0.1, 0.1, -0.1, 0.1, -0.1, 0.1, -0.1, 0.05]
NVL_UP_nle = [0, 0, 0, 0, 0, 0, 0.02, -0.02, 0.05, -0.1, 0.1, -0.1, 0.2, -0.2, 0.1, -0.1, 0.2, 0.4, -0.1, -0.2, 0.2, -0.2, 0.2, -0.1, 0.1, -0.1, 0.1, -0.1, 0.1, -0.1, 0.1, -0.1, 0.1, -0.1, 0.1, -0.1, 0.1, -0.1, 0.05]

stations = ['MRN', 'SAN0', 'SMS0', 'CRP', 'RAV0', 'T821',
            'FIN0', 'BON0', 'MDN', 'CNT', 'SAG0', 'NVL']
y_limits = [8, 5, 5, 5, 3, 1, 3, 2, 2, 2, 2, 2]
time_axis = {'MRN': t_A, 'SAN0': t_A, 'SMS0': t_B, 'CRP': t_B, 'RAV0': t_B, 'T821': t_B,
             'FIN0': t_B, 'BON0': t_B, 'MDN': t_C, 'CNT': t_B, 'SAG0': t_C, 'NVL': t_B}
components = ['EW', 'NS', 'UP']
legend_labels = ['Rec', 'SPEED 3D-new basin', 'SPEED 3D-new basin-NLE']

c_rec, c_sim, c_nle = 'black', '#2f3ed8', '#f23a3a'
# drawing order: simulations first, record on top
styles = [('sim', c_sim, (0, (1, 1.3)), 1.2),
          ('nle', c_nle, '-', 0.9),
          ('rec', c_rec, '-', 1.3)]

sns.set_style('white')
plt.rcParams['font.family'] = ['Liberation Sans', 'DejaVu Sans']
plt.rcParams['axes.unicode_minus'] = False

W, H = 892, 469
fig = plt.figure(figsize=(W / 100, H / 100), dpi=100)

col_x = [63, 190, 316, 496, 622, 748]      # pixel x of t=0
row_y = [53, 117, 177, 239, 304, 368]      # pixel y of zero line
pw, ph = 112.5, 43
name_x = [19, 454]
dis_x = [86, 516]

for i, st in enumerate(stations):
    block, r = divmod(i, 6)
    lim = y_limits[i]
    t = time_axis[st]
    for c, comp in enumerate(components):
        x0 = col_x[3 * block + c]
        ax = fig.add_axes([x0 / W, 1 - (row_y[r] + ph / 2) / H, pw / W, ph / H])
        ax.set_facecolor('none')
        for key, color, ls, lw in styles:
            name = f'{st}_{comp}_{key}'
            vals = globals()[name]
            assert len(vals) == len(t), name
            sns.lineplot(x=t, y=vals, ax=ax, color=color, linestyle=ls, lw=lw,
                         estimator=None, clip_on=False, legend=False)
        ax.set_xlim(0, 50)
        ax.set_ylim(-lim, lim)
        ax.set_xlabel('')
        ax.set_ylabel('')
        for side in ['top', 'right', 'bottom', 'left']:
            ax.spines[side].set_visible(False)
        ax.set_xticks([])
        ax.set_yticks([])

        if c == 0:
            ax.spines['left'].set_visible(True)
            ax.spines['left'].set_linewidth(0.8)
            ax.spines['left'].set_color('#333333')
            ax.set_yticks([-lim, 0, lim])
            ax.set_yticklabels([f'{-lim}', '0', f'{lim}'])
            ax.set_yticks([-lim / 2, lim / 2], minor=True)
            ax.tick_params(axis='y', which='both', left=True, direction='out', length=3,
                           width=0.8, color='#333333', pad=10, labelsize=9.5, labelcolor='#333333')
            for lbl in ax.get_yticklabels():
                lbl.set_horizontalalignment('center')
            fig.text(name_x[block] / W, 1 - row_y[r] / H, st, rotation=90, ha='center',
                     va='center', fontsize=12, fontweight='bold', color='#222222')

        if r == 5:
            ax.spines['bottom'].set_visible(True)
            ax.spines['bottom'].set_linewidth(0.8)
            ax.spines['bottom'].set_color('#333333')
            ax.spines['bottom'].set_position(('outward', 18.5))
            ax.spines['bottom'].set_bounds(0, 50)
            ax.set_xticks([0, 20, 40])
            ax.set_xticks([10, 30, 50], minor=True)
            ax.tick_params(axis='x', which='both', bottom=True, direction='in', length=3.5,
                           width=0.8, color='#333333', pad=10, labelsize=9.5, labelcolor='#333333')
            ax.set_xlabel('t (s)', fontsize=11, labelpad=8, color='#333333')

        if r == 0:
            ax.text(0.92, 1.04, comp, transform=ax.transAxes, ha='right', va='center',
                    fontstyle='italic', fontsize=10, color='#333333')

for b in range(2):
    fig.text(dis_x[b] / W, 1 - 20 / H, 'Dis (cm)', ha='center', va='center',
             fontsize=10.5, color='#333333')

handles = [Line2D([], [], color=c_rec, lw=1.1),
           Line2D([], [], color=c_sim, lw=1.1, linestyle=(0, (1, 1.3))),
           Line2D([], [], color=c_nle, lw=1.0)]
fig.legend(handles, legend_labels, loc='upper left', bbox_to_anchor=(713 / W, 1 - 59 / H),
           frameon=False, fontsize=9, handlelength=1.9, handletextpad=0.5,
           labelspacing=0.3, borderpad=0, borderaxespad=0, labelcolor='#333333')

fig.savefig('out.png', dpi=100)
